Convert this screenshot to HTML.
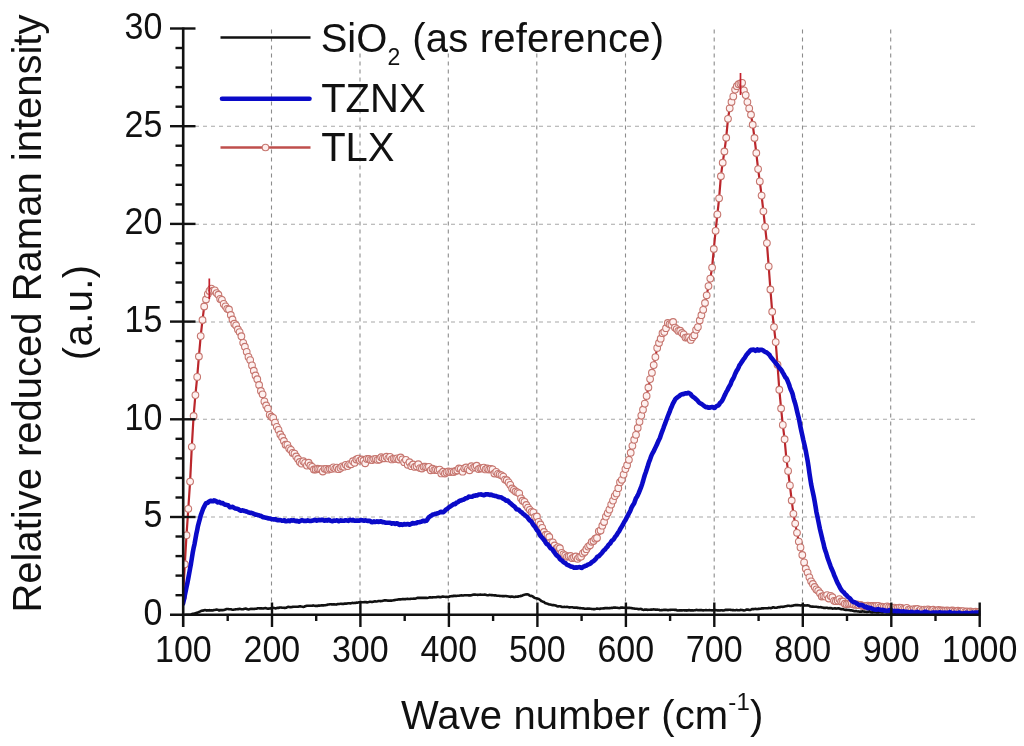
<!DOCTYPE html>
<html lang="en"><head><meta charset="utf-8"><title>Raman spectra</title>
<style>
html,body{margin:0;padding:0;background:#fff;}
body{width:1024px;height:746px;overflow:hidden;font-family:"Liberation Sans",sans-serif;}
svg{display:block;filter:blur(0.45px);}
text{font-family:"Liberation Sans",sans-serif;fill:#111;}
.tk{font-size:34px;}
.ti{font-size:40px;}
</style></head><body>
<svg width="1024" height="746" viewBox="0 0 1024 746">
<rect x="0" y="0" width="1024" height="746" fill="#fff"/>
<g fill="none" stroke-width="1.1" stroke-dasharray="4 4">
<g stroke="#8c8c8c">
<path d="M271.5 29.5V614.7"/>
<path d="M360.0 29.5V614.7"/>
<path d="M448.3 29.5V614.7"/>
<path d="M536.8 29.5V614.7"/>
<path d="M625.5 29.5V614.7"/>
<path d="M714.2 29.5V614.7"/>
<path d="M802.5 29.5V614.7"/>
<path d="M890.7 29.5V614.7"/>
</g><g stroke="#a8a8a8">
<path d="M187 517.0H978"/>
<path d="M187 419.3H978"/>
<path d="M187 322.0H978"/>
<path d="M187 224.3H978"/>
<path d="M187 126.3H978"/>
</g></g>
<g class="ti">
<rect x="318" y="18" width="350" height="35" fill="#fff"/>
<text x="320.7" y="51.5">SiO<tspan font-size="23px" dy="13.8">2</tspan><tspan dy="-13.8" dx="0.7" letter-spacing="0.22"> (as reference)</tspan></text>
<text x="321.2" y="111.8">TZNX</text>
<text x="321.2" y="161">TLX</text>
</g>
<defs><clipPath id="plot"><rect x="183" y="20" width="797.4" height="596"/></clipPath></defs>
<g clip-path="url(#plot)">
<path d="M183.0 597.0L184.8 564.2L186.5 535.2L188.3 508.8L190.1 481.6L191.8 446.8L193.6 416.0L195.4 395.1L197.2 376.9L198.9 356.5L200.7 336.1L202.5 320.0L204.2 306.5L206.0 299.5L207.8 294.1L209.5 290.9L211.3 288.6L213.1 290.7L214.8 290.4L216.6 293.1L218.4 294.7L220.2 298.9L221.9 299.8L223.7 303.9L225.5 306.3L227.2 308.8L229.0 309.5L230.8 315.0L232.5 319.5L234.3 323.7L236.1 325.4L237.9 329.5L239.6 332.1L241.4 336.2L243.2 342.8L244.9 346.7L246.7 351.8L248.5 356.9L250.2 360.1L252.0 365.4L253.8 370.7L255.5 375.5L257.3 379.2L259.1 385.0L260.9 391.0L262.6 394.3L264.4 401.4L266.2 405.5L267.9 408.6L269.7 414.8L271.5 416.7L273.2 417.9L275.0 422.6L276.8 426.8L278.5 429.9L280.3 434.5L282.1 437.2L283.9 441.0L285.6 444.7L287.4 444.9L289.2 448.4L290.9 449.9L292.7 452.9L294.5 453.6L296.2 456.5L298.0 459.0L299.8 462.0L301.5 463.6L303.3 461.2L305.1 462.8L306.9 465.6L308.6 462.7L310.4 465.5L312.2 466.8L313.9 469.5L315.7 469.5L317.5 468.7L319.2 469.0L321.0 469.2L322.8 471.5L324.6 468.8L326.3 468.9L328.1 469.7L329.9 469.0L331.6 468.8L333.4 467.4L335.2 468.6L336.9 467.6L338.7 469.2L340.5 467.9L342.2 466.4L344.0 466.7L345.8 464.8L347.6 466.1L349.3 464.1L351.1 464.3L352.9 461.2L354.6 462.8L356.4 459.5L358.2 458.6L359.9 460.6L361.7 459.5L363.5 460.7L365.2 463.3L367.0 458.9L368.8 459.0L370.6 459.9L372.3 460.1L374.1 459.1L375.9 458.9L377.6 459.9L379.4 459.5L381.2 457.2L382.9 458.3L384.7 458.3L386.5 456.7L388.3 458.4L390.0 456.8L391.8 459.4L393.6 458.6L395.3 458.9L397.1 458.4L398.9 459.5L400.6 457.5L402.4 459.4L404.2 462.2L405.9 459.8L407.7 464.8L409.5 462.2L411.3 466.2L413.0 464.5L414.8 466.9L416.6 466.2L418.3 464.2L420.1 468.1L421.9 468.5L423.6 466.7L425.4 466.7L427.2 467.3L428.9 466.8L430.7 470.3L432.5 468.7L434.3 470.1L436.0 469.6L437.8 470.2L439.6 469.6L441.3 473.4L443.1 471.7L444.9 473.5L446.6 472.4L448.4 471.5L450.2 472.1L451.9 471.6L453.7 472.0L455.5 471.0L457.3 470.5L459.0 468.5L460.8 468.8L462.6 471.7L464.3 468.3L466.1 467.5L467.9 469.1L469.6 470.3L471.4 466.2L473.2 467.8L475.0 467.1L476.7 465.7L478.5 469.1L480.3 468.2L482.0 468.5L483.8 467.6L485.6 469.4L487.3 468.5L489.1 469.5L490.9 468.8L492.6 469.4L494.4 473.5L496.2 471.9L498.0 473.9L499.7 474.6L501.5 475.3L503.3 476.6L505.0 479.6L506.8 480.2L508.6 482.4L510.3 484.9L512.1 488.5L513.9 489.9L515.6 491.5L517.4 492.3L519.2 493.3L521.0 498.3L522.7 500.7L524.5 501.8L526.3 505.0L528.0 507.6L529.8 509.8L531.6 511.9L533.3 512.3L535.1 516.9L536.9 516.5L538.6 521.8L540.4 524.5L542.2 527.9L544.0 532.0L545.7 534.7L547.5 534.9L549.3 537.0L551.0 542.3L552.8 542.3L554.6 545.5L556.3 548.5L558.1 547.1L559.9 548.2L561.7 552.9L563.4 554.3L565.2 555.4L567.0 556.8L568.7 556.3L570.5 556.0L572.3 558.2L574.0 557.4L575.8 556.5L577.6 558.8L579.3 557.1L581.1 556.6L582.9 553.4L584.7 552.0L586.4 549.2L588.2 546.6L590.0 545.3L591.7 541.8L593.5 541.0L595.3 538.7L597.0 538.0L598.8 531.3L600.6 530.4L602.3 525.7L604.1 522.0L605.9 516.6L607.7 513.1L609.4 509.6L611.2 504.6L613.0 500.6L614.7 496.1L616.5 493.4L618.3 488.2L620.0 482.2L621.8 479.8L623.6 474.6L625.4 469.1L627.1 465.2L628.9 459.8L630.7 452.7L632.4 445.8L634.2 439.7L636.0 434.8L637.7 428.0L639.5 421.8L641.3 415.6L643.0 409.7L644.8 403.6L646.6 395.9L648.4 387.5L650.1 379.1L651.9 372.7L653.7 365.1L655.4 357.1L657.2 347.9L659.0 343.0L660.7 338.7L662.5 333.2L664.3 331.9L666.0 328.2L667.8 323.0L669.6 324.2L671.4 324.7L673.1 322.0L674.9 327.6L676.7 329.1L678.4 330.9L680.2 330.7L682.0 333.0L683.7 334.4L685.5 337.6L687.3 337.4L689.0 337.4L690.8 339.9L692.6 337.2L694.4 335.2L696.1 329.8L697.9 327.1L699.7 320.5L701.4 315.2L703.2 309.8L705.0 303.0L706.7 295.3L708.5 286.1L710.3 278.6L712.1 267.6L713.8 249.0L715.6 230.8L717.4 214.4L719.1 198.3L720.9 176.2L722.7 162.7L724.4 151.5L726.2 137.7L728.0 118.8L729.7 108.3L731.5 102.0L733.3 96.4L735.1 89.6L736.8 86.2L738.6 84.2L740.4 83.4L742.1 82.8L743.9 90.3L745.7 95.1L747.4 102.1L749.2 108.4L751.0 114.7L752.7 124.7L754.5 138.0L756.3 153.0L758.1 169.1L759.8 181.4L761.6 195.6L763.4 211.3L765.1 226.8L766.9 243.1L768.7 266.4L770.4 289.5L772.2 311.7L774.0 327.1L775.7 342.1L777.5 364.7L779.3 389.7L781.1 408.5L782.8 424.9L784.6 439.2L786.4 459.1L788.1 470.9L789.9 485.4L791.7 500.5L793.4 513.8L795.2 523.6L797.0 532.8L798.8 541.6L800.5 547.4L802.3 555.0L804.1 562.4L805.8 568.7L807.6 572.6L809.4 577.3L811.1 581.3L812.9 584.0L814.7 587.0L816.4 589.4L818.2 590.8L820.0 593.2L821.8 596.5L823.5 596.1L825.3 596.6L827.1 595.1L828.8 598.5L830.6 595.9L832.4 597.2L834.1 600.8L835.9 601.2L837.7 600.6L839.4 599.1L841.2 601.5L843.0 601.5L844.8 603.7L846.5 604.3L848.3 603.8L850.1 603.7L851.8 603.8L853.6 604.6L855.4 604.8L857.1 604.5L858.9 605.2L860.7 604.8L862.4 606.0L864.2 606.1L866.0 606.2L867.8 605.6L869.5 606.2L871.3 606.0L873.1 606.0L874.8 606.2L876.6 605.9L878.4 605.9L880.1 607.1L881.9 606.7L883.7 607.1L885.5 607.5L887.2 606.4L889.0 607.0L890.8 607.5L892.5 607.8L894.3 607.6L896.1 608.4L897.8 608.1L899.6 607.6L901.4 607.9L903.1 608.9L904.9 608.9L906.7 607.9L908.5 609.6L910.2 609.4L912.0 609.8L913.8 609.1L915.5 609.3L917.3 609.0L919.1 610.8L920.8 609.6L922.6 610.6L924.4 609.6L926.1 610.1L927.9 609.3L929.7 610.0L931.5 610.7L933.2 609.7L935.0 610.9L936.8 610.6L938.5 610.0L940.3 610.4L942.1 610.5L943.8 610.7L945.6 610.6L947.4 610.5L949.2 610.9L950.9 610.6L952.7 610.5L954.5 611.2L956.2 611.7L958.0 610.7L959.8 611.5L961.5 611.2L963.3 611.1L965.1 612.1L966.8 611.5L968.6 612.5L970.4 611.5L972.2 612.1L973.9 611.9L975.7 611.7L977.5 612.4L979.2 612.1" fill="none" stroke="#bb272c" stroke-width="2.2" stroke-linejoin="round"/>
<g fill="#fef1f0" stroke="#c6766f" stroke-width="1.1">
<circle cx="183.0" cy="597.0" r="3.35"/>
<circle cx="184.8" cy="564.2" r="3.35"/>
<circle cx="186.5" cy="535.2" r="3.35"/>
<circle cx="188.3" cy="508.8" r="3.35"/>
<circle cx="190.1" cy="481.6" r="3.35"/>
<circle cx="191.8" cy="446.8" r="3.35"/>
<circle cx="193.6" cy="416.0" r="3.35"/>
<circle cx="195.4" cy="395.1" r="3.35"/>
<circle cx="197.2" cy="376.9" r="3.35"/>
<circle cx="198.9" cy="356.5" r="3.35"/>
<circle cx="200.7" cy="336.1" r="3.35"/>
<circle cx="202.5" cy="320.0" r="3.35"/>
<circle cx="204.2" cy="306.5" r="3.35"/>
<circle cx="206.0" cy="299.5" r="3.35"/>
<circle cx="207.8" cy="294.1" r="3.35"/>
<circle cx="209.5" cy="290.9" r="3.35"/>
<circle cx="211.3" cy="288.6" r="3.35"/>
<circle cx="213.1" cy="290.7" r="3.35"/>
<circle cx="214.8" cy="290.4" r="3.35"/>
<circle cx="216.6" cy="293.1" r="3.35"/>
<circle cx="218.4" cy="294.7" r="3.35"/>
<circle cx="220.2" cy="298.9" r="3.35"/>
<circle cx="221.9" cy="299.8" r="3.35"/>
<circle cx="223.7" cy="303.9" r="3.35"/>
<circle cx="225.5" cy="306.3" r="3.35"/>
<circle cx="227.2" cy="308.8" r="3.35"/>
<circle cx="229.0" cy="309.5" r="3.35"/>
<circle cx="230.8" cy="315.0" r="3.35"/>
<circle cx="232.5" cy="319.5" r="3.35"/>
<circle cx="234.3" cy="323.7" r="3.35"/>
<circle cx="236.1" cy="325.4" r="3.35"/>
<circle cx="237.9" cy="329.5" r="3.35"/>
<circle cx="239.6" cy="332.1" r="3.35"/>
<circle cx="241.4" cy="336.2" r="3.35"/>
<circle cx="243.2" cy="342.8" r="3.35"/>
<circle cx="244.9" cy="346.7" r="3.35"/>
<circle cx="246.7" cy="351.8" r="3.35"/>
<circle cx="248.5" cy="356.9" r="3.35"/>
<circle cx="250.2" cy="360.1" r="3.35"/>
<circle cx="252.0" cy="365.4" r="3.35"/>
<circle cx="253.8" cy="370.7" r="3.35"/>
<circle cx="255.5" cy="375.5" r="3.35"/>
<circle cx="257.3" cy="379.2" r="3.35"/>
<circle cx="259.1" cy="385.0" r="3.35"/>
<circle cx="260.9" cy="391.0" r="3.35"/>
<circle cx="262.6" cy="394.3" r="3.35"/>
<circle cx="264.4" cy="401.4" r="3.35"/>
<circle cx="266.2" cy="405.5" r="3.35"/>
<circle cx="267.9" cy="408.6" r="3.35"/>
<circle cx="269.7" cy="414.8" r="3.35"/>
<circle cx="271.5" cy="416.7" r="3.35"/>
<circle cx="273.2" cy="417.9" r="3.35"/>
<circle cx="275.0" cy="422.6" r="3.35"/>
<circle cx="276.8" cy="426.8" r="3.35"/>
<circle cx="278.5" cy="429.9" r="3.35"/>
<circle cx="280.3" cy="434.5" r="3.35"/>
<circle cx="282.1" cy="437.2" r="3.35"/>
<circle cx="283.9" cy="441.0" r="3.35"/>
<circle cx="285.6" cy="444.7" r="3.35"/>
<circle cx="287.4" cy="444.9" r="3.35"/>
<circle cx="289.2" cy="448.4" r="3.35"/>
<circle cx="290.9" cy="449.9" r="3.35"/>
<circle cx="292.7" cy="452.9" r="3.35"/>
<circle cx="294.5" cy="453.6" r="3.35"/>
<circle cx="296.2" cy="456.5" r="3.35"/>
<circle cx="298.0" cy="459.0" r="3.35"/>
<circle cx="299.8" cy="462.0" r="3.35"/>
<circle cx="301.5" cy="463.6" r="3.35"/>
<circle cx="303.3" cy="461.2" r="3.35"/>
<circle cx="305.1" cy="462.8" r="3.35"/>
<circle cx="306.9" cy="465.6" r="3.35"/>
<circle cx="308.6" cy="462.7" r="3.35"/>
<circle cx="310.4" cy="465.5" r="3.35"/>
<circle cx="312.2" cy="466.8" r="3.35"/>
<circle cx="313.9" cy="469.5" r="3.35"/>
<circle cx="315.7" cy="469.5" r="3.35"/>
<circle cx="317.5" cy="468.7" r="3.35"/>
<circle cx="319.2" cy="469.0" r="3.35"/>
<circle cx="321.0" cy="469.2" r="3.35"/>
<circle cx="322.8" cy="471.5" r="3.35"/>
<circle cx="324.6" cy="468.8" r="3.35"/>
<circle cx="326.3" cy="468.9" r="3.35"/>
<circle cx="328.1" cy="469.7" r="3.35"/>
<circle cx="329.9" cy="469.0" r="3.35"/>
<circle cx="331.6" cy="468.8" r="3.35"/>
<circle cx="333.4" cy="467.4" r="3.35"/>
<circle cx="335.2" cy="468.6" r="3.35"/>
<circle cx="336.9" cy="467.6" r="3.35"/>
<circle cx="338.7" cy="469.2" r="3.35"/>
<circle cx="340.5" cy="467.9" r="3.35"/>
<circle cx="342.2" cy="466.4" r="3.35"/>
<circle cx="344.0" cy="466.7" r="3.35"/>
<circle cx="345.8" cy="464.8" r="3.35"/>
<circle cx="347.6" cy="466.1" r="3.35"/>
<circle cx="349.3" cy="464.1" r="3.35"/>
<circle cx="351.1" cy="464.3" r="3.35"/>
<circle cx="352.9" cy="461.2" r="3.35"/>
<circle cx="354.6" cy="462.8" r="3.35"/>
<circle cx="356.4" cy="459.5" r="3.35"/>
<circle cx="358.2" cy="458.6" r="3.35"/>
<circle cx="359.9" cy="460.6" r="3.35"/>
<circle cx="361.7" cy="459.5" r="3.35"/>
<circle cx="363.5" cy="460.7" r="3.35"/>
<circle cx="365.2" cy="463.3" r="3.35"/>
<circle cx="367.0" cy="458.9" r="3.35"/>
<circle cx="368.8" cy="459.0" r="3.35"/>
<circle cx="370.6" cy="459.9" r="3.35"/>
<circle cx="372.3" cy="460.1" r="3.35"/>
<circle cx="374.1" cy="459.1" r="3.35"/>
<circle cx="375.9" cy="458.9" r="3.35"/>
<circle cx="377.6" cy="459.9" r="3.35"/>
<circle cx="379.4" cy="459.5" r="3.35"/>
<circle cx="381.2" cy="457.2" r="3.35"/>
<circle cx="382.9" cy="458.3" r="3.35"/>
<circle cx="384.7" cy="458.3" r="3.35"/>
<circle cx="386.5" cy="456.7" r="3.35"/>
<circle cx="388.3" cy="458.4" r="3.35"/>
<circle cx="390.0" cy="456.8" r="3.35"/>
<circle cx="391.8" cy="459.4" r="3.35"/>
<circle cx="393.6" cy="458.6" r="3.35"/>
<circle cx="395.3" cy="458.9" r="3.35"/>
<circle cx="397.1" cy="458.4" r="3.35"/>
<circle cx="398.9" cy="459.5" r="3.35"/>
<circle cx="400.6" cy="457.5" r="3.35"/>
<circle cx="402.4" cy="459.4" r="3.35"/>
<circle cx="404.2" cy="462.2" r="3.35"/>
<circle cx="405.9" cy="459.8" r="3.35"/>
<circle cx="407.7" cy="464.8" r="3.35"/>
<circle cx="409.5" cy="462.2" r="3.35"/>
<circle cx="411.3" cy="466.2" r="3.35"/>
<circle cx="413.0" cy="464.5" r="3.35"/>
<circle cx="414.8" cy="466.9" r="3.35"/>
<circle cx="416.6" cy="466.2" r="3.35"/>
<circle cx="418.3" cy="464.2" r="3.35"/>
<circle cx="420.1" cy="468.1" r="3.35"/>
<circle cx="421.9" cy="468.5" r="3.35"/>
<circle cx="423.6" cy="466.7" r="3.35"/>
<circle cx="425.4" cy="466.7" r="3.35"/>
<circle cx="427.2" cy="467.3" r="3.35"/>
<circle cx="428.9" cy="466.8" r="3.35"/>
<circle cx="430.7" cy="470.3" r="3.35"/>
<circle cx="432.5" cy="468.7" r="3.35"/>
<circle cx="434.3" cy="470.1" r="3.35"/>
<circle cx="436.0" cy="469.6" r="3.35"/>
<circle cx="437.8" cy="470.2" r="3.35"/>
<circle cx="439.6" cy="469.6" r="3.35"/>
<circle cx="441.3" cy="473.4" r="3.35"/>
<circle cx="443.1" cy="471.7" r="3.35"/>
<circle cx="444.9" cy="473.5" r="3.35"/>
<circle cx="446.6" cy="472.4" r="3.35"/>
<circle cx="448.4" cy="471.5" r="3.35"/>
<circle cx="450.2" cy="472.1" r="3.35"/>
<circle cx="451.9" cy="471.6" r="3.35"/>
<circle cx="453.7" cy="472.0" r="3.35"/>
<circle cx="455.5" cy="471.0" r="3.35"/>
<circle cx="457.3" cy="470.5" r="3.35"/>
<circle cx="459.0" cy="468.5" r="3.35"/>
<circle cx="460.8" cy="468.8" r="3.35"/>
<circle cx="462.6" cy="471.7" r="3.35"/>
<circle cx="464.3" cy="468.3" r="3.35"/>
<circle cx="466.1" cy="467.5" r="3.35"/>
<circle cx="467.9" cy="469.1" r="3.35"/>
<circle cx="469.6" cy="470.3" r="3.35"/>
<circle cx="471.4" cy="466.2" r="3.35"/>
<circle cx="473.2" cy="467.8" r="3.35"/>
<circle cx="475.0" cy="467.1" r="3.35"/>
<circle cx="476.7" cy="465.7" r="3.35"/>
<circle cx="478.5" cy="469.1" r="3.35"/>
<circle cx="480.3" cy="468.2" r="3.35"/>
<circle cx="482.0" cy="468.5" r="3.35"/>
<circle cx="483.8" cy="467.6" r="3.35"/>
<circle cx="485.6" cy="469.4" r="3.35"/>
<circle cx="487.3" cy="468.5" r="3.35"/>
<circle cx="489.1" cy="469.5" r="3.35"/>
<circle cx="490.9" cy="468.8" r="3.35"/>
<circle cx="492.6" cy="469.4" r="3.35"/>
<circle cx="494.4" cy="473.5" r="3.35"/>
<circle cx="496.2" cy="471.9" r="3.35"/>
<circle cx="498.0" cy="473.9" r="3.35"/>
<circle cx="499.7" cy="474.6" r="3.35"/>
<circle cx="501.5" cy="475.3" r="3.35"/>
<circle cx="503.3" cy="476.6" r="3.35"/>
<circle cx="505.0" cy="479.6" r="3.35"/>
<circle cx="506.8" cy="480.2" r="3.35"/>
<circle cx="508.6" cy="482.4" r="3.35"/>
<circle cx="510.3" cy="484.9" r="3.35"/>
<circle cx="512.1" cy="488.5" r="3.35"/>
<circle cx="513.9" cy="489.9" r="3.35"/>
<circle cx="515.6" cy="491.5" r="3.35"/>
<circle cx="517.4" cy="492.3" r="3.35"/>
<circle cx="519.2" cy="493.3" r="3.35"/>
<circle cx="521.0" cy="498.3" r="3.35"/>
<circle cx="522.7" cy="500.7" r="3.35"/>
<circle cx="524.5" cy="501.8" r="3.35"/>
<circle cx="526.3" cy="505.0" r="3.35"/>
<circle cx="528.0" cy="507.6" r="3.35"/>
<circle cx="529.8" cy="509.8" r="3.35"/>
<circle cx="531.6" cy="511.9" r="3.35"/>
<circle cx="533.3" cy="512.3" r="3.35"/>
<circle cx="535.1" cy="516.9" r="3.35"/>
<circle cx="536.9" cy="516.5" r="3.35"/>
<circle cx="538.6" cy="521.8" r="3.35"/>
<circle cx="540.4" cy="524.5" r="3.35"/>
<circle cx="542.2" cy="527.9" r="3.35"/>
<circle cx="544.0" cy="532.0" r="3.35"/>
<circle cx="545.7" cy="534.7" r="3.35"/>
<circle cx="547.5" cy="534.9" r="3.35"/>
<circle cx="549.3" cy="537.0" r="3.35"/>
<circle cx="551.0" cy="542.3" r="3.35"/>
<circle cx="552.8" cy="542.3" r="3.35"/>
<circle cx="554.6" cy="545.5" r="3.35"/>
<circle cx="556.3" cy="548.5" r="3.35"/>
<circle cx="558.1" cy="547.1" r="3.35"/>
<circle cx="559.9" cy="548.2" r="3.35"/>
<circle cx="561.7" cy="552.9" r="3.35"/>
<circle cx="563.4" cy="554.3" r="3.35"/>
<circle cx="565.2" cy="555.4" r="3.35"/>
<circle cx="567.0" cy="556.8" r="3.35"/>
<circle cx="568.7" cy="556.3" r="3.35"/>
<circle cx="570.5" cy="556.0" r="3.35"/>
<circle cx="572.3" cy="558.2" r="3.35"/>
<circle cx="574.0" cy="557.4" r="3.35"/>
<circle cx="575.8" cy="556.5" r="3.35"/>
<circle cx="577.6" cy="558.8" r="3.35"/>
<circle cx="579.3" cy="557.1" r="3.35"/>
<circle cx="581.1" cy="556.6" r="3.35"/>
<circle cx="582.9" cy="553.4" r="3.35"/>
<circle cx="584.7" cy="552.0" r="3.35"/>
<circle cx="586.4" cy="549.2" r="3.35"/>
<circle cx="588.2" cy="546.6" r="3.35"/>
<circle cx="590.0" cy="545.3" r="3.35"/>
<circle cx="591.7" cy="541.8" r="3.35"/>
<circle cx="593.5" cy="541.0" r="3.35"/>
<circle cx="595.3" cy="538.7" r="3.35"/>
<circle cx="597.0" cy="538.0" r="3.35"/>
<circle cx="598.8" cy="531.3" r="3.35"/>
<circle cx="600.6" cy="530.4" r="3.35"/>
<circle cx="602.3" cy="525.7" r="3.35"/>
<circle cx="604.1" cy="522.0" r="3.35"/>
<circle cx="605.9" cy="516.6" r="3.35"/>
<circle cx="607.7" cy="513.1" r="3.35"/>
<circle cx="609.4" cy="509.6" r="3.35"/>
<circle cx="611.2" cy="504.6" r="3.35"/>
<circle cx="613.0" cy="500.6" r="3.35"/>
<circle cx="614.7" cy="496.1" r="3.35"/>
<circle cx="616.5" cy="493.4" r="3.35"/>
<circle cx="618.3" cy="488.2" r="3.35"/>
<circle cx="620.0" cy="482.2" r="3.35"/>
<circle cx="621.8" cy="479.8" r="3.35"/>
<circle cx="623.6" cy="474.6" r="3.35"/>
<circle cx="625.4" cy="469.1" r="3.35"/>
<circle cx="627.1" cy="465.2" r="3.35"/>
<circle cx="628.9" cy="459.8" r="3.35"/>
<circle cx="630.7" cy="452.7" r="3.35"/>
<circle cx="632.4" cy="445.8" r="3.35"/>
<circle cx="634.2" cy="439.7" r="3.35"/>
<circle cx="636.0" cy="434.8" r="3.35"/>
<circle cx="637.7" cy="428.0" r="3.35"/>
<circle cx="639.5" cy="421.8" r="3.35"/>
<circle cx="641.3" cy="415.6" r="3.35"/>
<circle cx="643.0" cy="409.7" r="3.35"/>
<circle cx="644.8" cy="403.6" r="3.35"/>
<circle cx="646.6" cy="395.9" r="3.35"/>
<circle cx="648.4" cy="387.5" r="3.35"/>
<circle cx="650.1" cy="379.1" r="3.35"/>
<circle cx="651.9" cy="372.7" r="3.35"/>
<circle cx="653.7" cy="365.1" r="3.35"/>
<circle cx="655.4" cy="357.1" r="3.35"/>
<circle cx="657.2" cy="347.9" r="3.35"/>
<circle cx="659.0" cy="343.0" r="3.35"/>
<circle cx="660.7" cy="338.7" r="3.35"/>
<circle cx="662.5" cy="333.2" r="3.35"/>
<circle cx="664.3" cy="331.9" r="3.35"/>
<circle cx="666.0" cy="328.2" r="3.35"/>
<circle cx="667.8" cy="323.0" r="3.35"/>
<circle cx="669.6" cy="324.2" r="3.35"/>
<circle cx="671.4" cy="324.7" r="3.35"/>
<circle cx="673.1" cy="322.0" r="3.35"/>
<circle cx="674.9" cy="327.6" r="3.35"/>
<circle cx="676.7" cy="329.1" r="3.35"/>
<circle cx="678.4" cy="330.9" r="3.35"/>
<circle cx="680.2" cy="330.7" r="3.35"/>
<circle cx="682.0" cy="333.0" r="3.35"/>
<circle cx="683.7" cy="334.4" r="3.35"/>
<circle cx="685.5" cy="337.6" r="3.35"/>
<circle cx="687.3" cy="337.4" r="3.35"/>
<circle cx="689.0" cy="337.4" r="3.35"/>
<circle cx="690.8" cy="339.9" r="3.35"/>
<circle cx="692.6" cy="337.2" r="3.35"/>
<circle cx="694.4" cy="335.2" r="3.35"/>
<circle cx="696.1" cy="329.8" r="3.35"/>
<circle cx="697.9" cy="327.1" r="3.35"/>
<circle cx="699.7" cy="320.5" r="3.35"/>
<circle cx="701.4" cy="315.2" r="3.35"/>
<circle cx="703.2" cy="309.8" r="3.35"/>
<circle cx="705.0" cy="303.0" r="3.35"/>
<circle cx="706.7" cy="295.3" r="3.35"/>
<circle cx="708.5" cy="286.1" r="3.35"/>
<circle cx="710.3" cy="278.6" r="3.35"/>
<circle cx="712.1" cy="267.6" r="3.35"/>
<circle cx="713.8" cy="249.0" r="3.35"/>
<circle cx="715.6" cy="230.8" r="3.35"/>
<circle cx="717.4" cy="214.4" r="3.35"/>
<circle cx="719.1" cy="198.3" r="3.35"/>
<circle cx="720.9" cy="176.2" r="3.35"/>
<circle cx="722.7" cy="162.7" r="3.35"/>
<circle cx="724.4" cy="151.5" r="3.35"/>
<circle cx="726.2" cy="137.7" r="3.35"/>
<circle cx="728.0" cy="118.8" r="3.35"/>
<circle cx="729.7" cy="108.3" r="3.35"/>
<circle cx="731.5" cy="102.0" r="3.35"/>
<circle cx="733.3" cy="96.4" r="3.35"/>
<circle cx="735.1" cy="89.6" r="3.35"/>
<circle cx="736.8" cy="86.2" r="3.35"/>
<circle cx="738.6" cy="84.2" r="3.35"/>
<circle cx="740.4" cy="83.4" r="3.35"/>
<circle cx="742.1" cy="82.8" r="3.35"/>
<circle cx="743.9" cy="90.3" r="3.35"/>
<circle cx="745.7" cy="95.1" r="3.35"/>
<circle cx="747.4" cy="102.1" r="3.35"/>
<circle cx="749.2" cy="108.4" r="3.35"/>
<circle cx="751.0" cy="114.7" r="3.35"/>
<circle cx="752.7" cy="124.7" r="3.35"/>
<circle cx="754.5" cy="138.0" r="3.35"/>
<circle cx="756.3" cy="153.0" r="3.35"/>
<circle cx="758.1" cy="169.1" r="3.35"/>
<circle cx="759.8" cy="181.4" r="3.35"/>
<circle cx="761.6" cy="195.6" r="3.35"/>
<circle cx="763.4" cy="211.3" r="3.35"/>
<circle cx="765.1" cy="226.8" r="3.35"/>
<circle cx="766.9" cy="243.1" r="3.35"/>
<circle cx="768.7" cy="266.4" r="3.35"/>
<circle cx="770.4" cy="289.5" r="3.35"/>
<circle cx="772.2" cy="311.7" r="3.35"/>
<circle cx="774.0" cy="327.1" r="3.35"/>
<circle cx="775.7" cy="342.1" r="3.35"/>
<circle cx="777.5" cy="364.7" r="3.35"/>
<circle cx="779.3" cy="389.7" r="3.35"/>
<circle cx="781.1" cy="408.5" r="3.35"/>
<circle cx="782.8" cy="424.9" r="3.35"/>
<circle cx="784.6" cy="439.2" r="3.35"/>
<circle cx="786.4" cy="459.1" r="3.35"/>
<circle cx="788.1" cy="470.9" r="3.35"/>
<circle cx="789.9" cy="485.4" r="3.35"/>
<circle cx="791.7" cy="500.5" r="3.35"/>
<circle cx="793.4" cy="513.8" r="3.35"/>
<circle cx="795.2" cy="523.6" r="3.35"/>
<circle cx="797.0" cy="532.8" r="3.35"/>
<circle cx="798.8" cy="541.6" r="3.35"/>
<circle cx="800.5" cy="547.4" r="3.35"/>
<circle cx="802.3" cy="555.0" r="3.35"/>
<circle cx="804.1" cy="562.4" r="3.35"/>
<circle cx="805.8" cy="568.7" r="3.35"/>
<circle cx="807.6" cy="572.6" r="3.35"/>
<circle cx="809.4" cy="577.3" r="3.35"/>
<circle cx="811.1" cy="581.3" r="3.35"/>
<circle cx="812.9" cy="584.0" r="3.35"/>
<circle cx="814.7" cy="587.0" r="3.35"/>
<circle cx="816.4" cy="589.4" r="3.35"/>
<circle cx="818.2" cy="590.8" r="3.35"/>
<circle cx="820.0" cy="593.2" r="3.35"/>
<circle cx="821.8" cy="596.5" r="3.35"/>
<circle cx="823.5" cy="596.1" r="3.35"/>
<circle cx="825.3" cy="596.6" r="3.35"/>
<circle cx="827.1" cy="595.1" r="3.35"/>
<circle cx="828.8" cy="598.5" r="3.35"/>
<circle cx="830.6" cy="595.9" r="3.35"/>
<circle cx="832.4" cy="597.2" r="3.35"/>
<circle cx="834.1" cy="600.8" r="3.35"/>
<circle cx="835.9" cy="601.2" r="3.35"/>
<circle cx="837.7" cy="600.6" r="3.35"/>
<circle cx="839.4" cy="599.1" r="3.35"/>
<circle cx="841.2" cy="601.5" r="3.35"/>
<circle cx="843.0" cy="601.5" r="3.35"/>
<circle cx="844.8" cy="603.7" r="3.35"/>
<circle cx="846.5" cy="604.3" r="3.35"/>
<circle cx="848.3" cy="603.8" r="3.35"/>
<circle cx="850.1" cy="603.7" r="3.35"/>
<circle cx="851.8" cy="603.8" r="3.35"/>
<circle cx="853.6" cy="604.6" r="3.35"/>
<circle cx="855.4" cy="604.8" r="3.35"/>
<circle cx="857.1" cy="604.5" r="3.35"/>
<circle cx="858.9" cy="605.2" r="3.35"/>
<circle cx="860.7" cy="604.8" r="3.35"/>
<circle cx="862.4" cy="606.0" r="3.35"/>
<circle cx="864.2" cy="606.1" r="3.35"/>
<circle cx="866.0" cy="606.2" r="3.35"/>
<circle cx="867.8" cy="605.6" r="3.35"/>
<circle cx="869.5" cy="606.2" r="3.35"/>
<circle cx="871.3" cy="606.0" r="3.35"/>
<circle cx="873.1" cy="606.0" r="3.35"/>
<circle cx="874.8" cy="606.2" r="3.35"/>
<circle cx="876.6" cy="605.9" r="3.35"/>
<circle cx="878.4" cy="605.9" r="3.35"/>
<circle cx="880.1" cy="607.1" r="3.35"/>
<circle cx="881.9" cy="606.7" r="3.35"/>
<circle cx="883.7" cy="607.1" r="3.35"/>
<circle cx="885.5" cy="607.5" r="3.35"/>
<circle cx="887.2" cy="606.4" r="3.35"/>
<circle cx="889.0" cy="607.0" r="3.35"/>
<circle cx="890.8" cy="607.5" r="3.35"/>
<circle cx="892.5" cy="607.8" r="3.35"/>
<circle cx="894.3" cy="607.6" r="3.35"/>
<circle cx="896.1" cy="608.4" r="3.35"/>
<circle cx="897.8" cy="608.1" r="3.35"/>
<circle cx="899.6" cy="607.6" r="3.35"/>
<circle cx="901.4" cy="607.9" r="3.35"/>
<circle cx="903.1" cy="608.9" r="3.35"/>
<circle cx="904.9" cy="608.9" r="3.35"/>
<circle cx="906.7" cy="607.9" r="3.35"/>
<circle cx="908.5" cy="609.6" r="3.35"/>
<circle cx="910.2" cy="609.4" r="3.35"/>
<circle cx="912.0" cy="609.8" r="3.35"/>
<circle cx="913.8" cy="609.1" r="3.35"/>
<circle cx="915.5" cy="609.3" r="3.35"/>
<circle cx="917.3" cy="609.0" r="3.35"/>
<circle cx="919.1" cy="610.8" r="3.35"/>
<circle cx="920.8" cy="609.6" r="3.35"/>
<circle cx="922.6" cy="610.6" r="3.35"/>
<circle cx="924.4" cy="609.6" r="3.35"/>
<circle cx="926.1" cy="610.1" r="3.35"/>
<circle cx="927.9" cy="609.3" r="3.35"/>
<circle cx="929.7" cy="610.0" r="3.35"/>
<circle cx="931.5" cy="610.7" r="3.35"/>
<circle cx="933.2" cy="609.7" r="3.35"/>
<circle cx="935.0" cy="610.9" r="3.35"/>
<circle cx="936.8" cy="610.6" r="3.35"/>
<circle cx="938.5" cy="610.0" r="3.35"/>
<circle cx="940.3" cy="610.4" r="3.35"/>
<circle cx="942.1" cy="610.5" r="3.35"/>
<circle cx="943.8" cy="610.7" r="3.35"/>
<circle cx="945.6" cy="610.6" r="3.35"/>
<circle cx="947.4" cy="610.5" r="3.35"/>
<circle cx="949.2" cy="610.9" r="3.35"/>
<circle cx="950.9" cy="610.6" r="3.35"/>
<circle cx="952.7" cy="610.5" r="3.35"/>
<circle cx="954.5" cy="611.2" r="3.35"/>
<circle cx="956.2" cy="611.7" r="3.35"/>
<circle cx="958.0" cy="610.7" r="3.35"/>
<circle cx="959.8" cy="611.5" r="3.35"/>
<circle cx="961.5" cy="611.2" r="3.35"/>
<circle cx="963.3" cy="611.1" r="3.35"/>
<circle cx="965.1" cy="612.1" r="3.35"/>
<circle cx="966.8" cy="611.5" r="3.35"/>
<circle cx="968.6" cy="612.5" r="3.35"/>
<circle cx="970.4" cy="611.5" r="3.35"/>
<circle cx="972.2" cy="612.1" r="3.35"/>
<circle cx="973.9" cy="611.9" r="3.35"/>
<circle cx="975.7" cy="611.7" r="3.35"/>
<circle cx="977.5" cy="612.4" r="3.35"/>
<circle cx="979.2" cy="612.1" r="3.35"/>
</g>
<path d="M209.3 278.5V299M740.5 73V95" fill="none" stroke="#c4202c" stroke-width="1.7"/>
<path d="M183.0 615.0L183.9 615.0L184.8 615.0L185.7 614.9L186.5 614.7L187.4 614.8L188.3 614.8L189.2 614.8L190.1 614.7L191.0 614.5L191.8 614.0L192.7 613.9L193.6 613.9L194.5 613.6L195.4 613.2L196.3 612.9L197.2 612.8L198.0 612.4L198.9 612.0L199.8 611.6L200.7 611.1L201.6 610.7L202.5 610.5L203.3 610.6L204.2 610.3L205.1 610.1L206.0 610.2L206.9 610.6L207.8 610.3L208.7 610.5L209.5 610.1L210.4 610.5L211.3 610.3L212.2 610.5L213.1 610.4L214.0 610.0L214.8 610.0L215.7 609.8L216.6 609.6L217.5 609.8L218.4 610.0L219.3 610.5L220.2 610.0L221.0 610.1L221.9 610.0L222.8 610.3L223.7 610.1L224.6 609.7L225.5 609.4L226.4 609.1L227.2 609.0L228.1 609.0L229.0 609.2L229.9 609.3L230.8 609.3L231.7 609.6L232.5 609.8L233.4 609.8L234.3 609.6L235.2 609.4L236.1 609.3L237.0 609.2L237.9 609.1L238.7 609.1L239.6 608.8L240.5 609.0L241.4 609.2L242.3 609.2L243.2 609.2L244.0 608.9L244.9 608.8L245.8 608.6L246.7 608.9L247.6 609.3L248.5 609.5L249.4 609.2L250.2 609.0L251.1 608.8L252.0 609.0L252.9 608.9L253.8 609.0L254.7 608.9L255.5 608.8L256.4 608.7L257.3 608.4L258.2 608.3L259.1 608.2L260.0 608.4L260.9 608.3L261.7 608.4L262.6 608.5L263.5 608.4L264.4 608.2L265.3 608.0L266.2 608.3L267.0 608.6L267.9 608.8L268.8 608.6L269.7 608.5L270.6 608.2L271.5 608.4L272.4 608.1L273.2 607.9L274.1 608.0L275.0 608.2L275.9 608.4L276.8 608.0L277.7 607.8L278.5 607.9L279.4 607.6L280.3 607.5L281.2 607.5L282.1 607.7L283.0 607.8L283.9 607.7L284.7 608.0L285.6 607.7L286.5 607.6L287.4 607.0L288.3 606.9L289.2 607.0L290.0 607.1L290.9 607.2L291.8 607.0L292.7 606.9L293.6 606.8L294.5 606.7L295.4 606.7L296.2 606.8L297.1 606.8L298.0 606.8L298.9 606.5L299.8 606.4L300.7 606.4L301.5 606.6L302.4 606.8L303.3 606.9L304.2 606.7L305.1 606.3L306.0 606.0L306.9 605.8L307.7 605.7L308.6 605.7L309.5 605.7L310.4 605.8L311.3 605.8L312.2 605.7L313.1 605.4L313.9 605.6L314.8 605.7L315.7 606.0L316.6 605.8L317.5 605.9L318.4 605.6L319.2 605.5L320.1 605.6L321.0 605.4L321.9 605.4L322.8 605.2L323.7 605.4L324.6 605.3L325.4 605.2L326.3 605.0L327.2 604.9L328.1 604.5L329.0 604.5L329.9 604.3L330.7 604.3L331.6 604.4L332.5 604.4L333.4 604.2L334.3 604.4L335.2 604.4L336.1 604.6L336.9 604.3L337.8 604.1L338.7 604.0L339.6 604.0L340.5 603.8L341.4 603.7L342.2 604.0L343.1 603.9L344.0 603.9L344.9 603.5L345.8 603.6L346.7 603.6L347.6 603.4L348.4 603.3L349.3 603.3L350.2 603.4L351.1 603.2L352.0 603.0L352.9 602.9L353.7 603.1L354.6 602.9L355.5 603.0L356.4 602.6L357.3 602.7L358.2 602.5L359.1 602.3L359.9 602.2L360.8 602.0L361.7 602.2L362.6 602.3L363.5 602.3L364.4 602.1L365.2 602.0L366.1 602.1L367.0 602.4L367.9 602.2L368.8 602.0L369.7 601.7L370.6 601.8L371.4 602.0L372.3 601.9L373.2 601.7L374.1 601.5L375.0 601.3L375.9 601.5L376.7 601.5L377.6 601.3L378.5 601.0L379.4 601.0L380.3 601.1L381.2 601.1L382.1 600.9L382.9 600.7L383.8 600.5L384.7 600.3L385.6 600.4L386.5 600.4L387.4 600.6L388.3 600.6L389.1 600.7L390.0 600.6L390.9 600.6L391.8 600.6L392.7 600.4L393.6 600.2L394.4 600.1L395.3 600.0L396.2 599.8L397.1 599.7L398.0 599.5L398.9 599.4L399.8 599.3L400.6 599.4L401.5 599.2L402.4 599.1L403.3 599.1L404.2 599.3L405.1 599.1L405.9 599.1L406.8 598.9L407.7 598.9L408.6 599.0L409.5 599.0L410.4 598.9L411.3 598.8L412.1 598.8L413.0 598.7L413.9 598.6L414.8 598.7L415.7 598.4L416.6 598.2L417.4 597.8L418.3 597.9L419.2 597.9L420.1 597.8L421.0 597.9L421.9 597.9L422.8 597.9L423.6 597.9L424.5 597.9L425.4 597.8L426.3 597.9L427.2 598.0L428.1 597.8L428.9 597.6L429.8 597.3L430.7 597.4L431.6 597.5L432.5 597.4L433.4 597.3L434.3 597.3L435.1 597.3L436.0 597.3L436.9 597.0L437.8 596.9L438.7 596.7L439.6 597.1L440.4 597.1L441.3 597.0L442.2 596.6L443.1 596.6L444.0 596.7L444.9 596.8L445.8 597.0L446.6 596.9L447.5 597.0L448.4 596.7L449.3 596.7L450.2 596.3L451.1 596.2L451.9 596.1L452.8 596.2L453.7 595.8L454.6 595.9L455.5 595.8L456.4 596.0L457.3 595.8L458.1 595.7L459.0 595.8L459.9 595.6L460.8 595.4L461.7 595.4L462.6 595.5L463.4 595.5L464.3 595.3L465.2 595.2L466.1 595.2L467.0 595.3L467.9 595.3L468.8 595.4L469.6 595.3L470.5 595.4L471.4 595.3L472.3 594.9L473.2 594.8L474.1 594.5L475.0 594.6L475.8 594.8L476.7 594.8L477.6 594.9L478.5 594.7L479.4 594.8L480.3 594.6L481.1 594.8L482.0 594.7L482.9 594.8L483.8 594.7L484.7 594.6L485.6 594.8L486.5 595.1L487.3 595.3L488.2 595.2L489.1 595.0L490.0 594.9L490.9 595.1L491.8 595.0L492.6 595.3L493.5 595.2L494.4 595.4L495.3 595.3L496.2 595.5L497.1 595.7L498.0 595.8L498.8 595.7L499.7 595.9L500.6 596.0L501.5 596.0L502.4 596.1L503.3 596.0L504.1 596.2L505.0 596.0L505.9 596.0L506.8 596.2L507.7 596.3L508.6 596.5L509.5 596.6L510.3 596.9L511.2 596.6L512.1 596.6L513.0 596.7L513.9 597.0L514.8 597.0L515.6 596.6L516.5 596.7L517.4 596.5L518.3 596.7L519.2 596.2L520.1 596.2L521.0 595.8L521.8 595.9L522.7 595.4L523.6 594.9L524.5 594.7L525.4 594.5L526.3 594.4L527.1 594.2L528.0 594.4L528.9 594.9L529.8 595.6L530.7 596.0L531.6 595.9L532.5 596.2L533.3 596.9L534.2 597.6L535.1 598.0L536.0 598.2L536.9 598.5L537.8 598.6L538.6 598.9L539.5 599.5L540.4 600.1L541.3 601.0L542.2 601.4L543.1 601.8L544.0 602.1L544.8 602.8L545.7 603.3L546.6 603.5L547.5 603.7L548.4 604.1L549.3 604.5L550.2 604.5L551.0 604.7L551.9 605.0L552.8 605.1L553.7 605.1L554.6 605.2L555.5 605.5L556.3 605.8L557.2 606.2L558.1 606.4L559.0 606.3L559.9 606.3L560.8 606.5L561.7 606.9L562.5 607.0L563.4 607.0L564.3 606.9L565.2 607.0L566.1 607.0L567.0 606.9L567.8 607.0L568.7 607.2L569.6 607.5L570.5 607.2L571.4 607.2L572.3 607.2L573.2 607.4L574.0 607.7L574.9 607.6L575.8 607.8L576.7 607.6L577.6 607.9L578.5 607.9L579.3 608.1L580.2 608.1L581.1 608.3L582.0 608.3L582.9 608.5L583.8 608.4L584.7 608.7L585.5 608.7L586.4 608.8L587.3 608.6L588.2 608.8L589.1 608.6L590.0 608.7L590.8 608.8L591.7 609.0L592.6 609.0L593.5 609.1L594.4 609.1L595.3 609.0L596.2 608.8L597.0 608.6L597.9 608.8L598.8 608.8L599.7 608.9L600.6 608.6L601.5 608.5L602.3 608.5L603.2 608.4L604.1 608.4L605.0 608.1L605.9 608.1L606.8 608.0L607.7 608.1L608.5 608.2L609.4 608.0L610.3 608.1L611.2 607.9L612.1 608.0L613.0 607.7L613.8 607.5L614.7 607.6L615.6 607.6L616.5 607.7L617.4 607.7L618.3 607.9L619.2 608.1L620.0 607.9L620.9 607.6L621.8 607.5L622.7 607.6L623.6 607.8L624.5 607.7L625.4 607.8L626.2 607.8L627.1 607.9L628.0 607.9L628.9 607.9L629.8 607.9L630.7 608.0L631.5 608.1L632.4 608.2L633.3 608.5L634.2 608.5L635.1 608.8L636.0 608.7L636.9 608.8L637.7 609.0L638.6 609.1L639.5 609.1L640.4 608.9L641.3 609.0L642.2 609.5L643.0 609.7L643.9 609.9L644.8 609.5L645.7 609.6L646.6 609.5L647.5 609.9L648.4 609.8L649.2 609.8L650.1 609.7L651.0 609.6L651.9 609.6L652.8 609.5L653.7 609.4L654.5 609.5L655.4 609.6L656.3 609.8L657.2 609.6L658.1 609.7L659.0 609.8L659.9 610.2L660.7 610.2L661.6 610.1L662.5 610.1L663.4 609.9L664.3 609.9L665.2 609.8L666.0 609.9L666.9 610.0L667.8 610.1L668.7 610.1L669.6 609.9L670.5 609.9L671.4 609.8L672.2 609.8L673.1 609.8L674.0 609.8L674.9 609.9L675.8 609.8L676.7 610.2L677.5 610.4L678.4 610.5L679.3 610.3L680.2 610.4L681.1 610.4L682.0 610.4L682.9 610.2L683.7 610.2L684.6 610.4L685.5 610.3L686.4 610.6L687.3 610.3L688.2 610.4L689.0 610.0L689.9 610.4L690.8 610.2L691.7 610.4L692.6 610.3L693.5 610.5L694.4 610.3L695.2 610.2L696.1 609.9L697.0 610.0L697.9 610.1L698.8 610.2L699.7 610.1L700.5 610.1L701.4 610.0L702.3 610.2L703.2 610.4L704.1 610.3L705.0 610.2L705.9 610.0L706.7 610.3L707.6 610.2L708.5 610.2L709.4 610.0L710.3 610.2L711.2 610.3L712.1 610.4L712.9 610.3L713.8 610.3L714.7 610.1L715.6 610.1L716.5 610.2L717.4 610.4L718.2 610.4L719.1 610.5L720.0 610.4L720.9 610.2L721.8 610.2L722.7 610.5L723.6 610.5L724.4 610.2L725.3 609.9L726.2 609.9L727.1 609.8L728.0 609.9L728.9 609.8L729.7 609.8L730.6 609.9L731.5 610.0L732.4 610.1L733.3 610.1L734.2 610.3L735.1 610.2L735.9 610.1L736.8 609.9L737.7 610.2L738.6 610.2L739.5 610.2L740.4 609.9L741.2 609.9L742.1 610.1L743.0 610.3L743.9 610.4L744.8 610.2L745.7 609.9L746.6 609.5L747.4 609.6L748.3 609.6L749.2 610.0L750.1 610.0L751.0 609.6L751.9 609.1L752.7 609.1L753.6 609.1L754.5 609.0L755.4 608.9L756.3 609.0L757.2 609.1L758.1 608.9L758.9 608.9L759.8 608.8L760.7 608.8L761.6 608.4L762.5 608.3L763.4 608.4L764.2 608.3L765.1 608.3L766.0 608.2L766.9 608.3L767.8 608.2L768.7 607.9L769.6 608.0L770.4 608.1L771.3 608.2L772.2 607.7L773.1 607.3L774.0 607.4L774.9 607.7L775.7 607.8L776.6 607.8L777.5 607.4L778.4 607.3L779.3 607.0L780.2 607.1L781.1 606.8L781.9 606.8L782.8 606.9L783.7 606.8L784.6 606.4L785.5 606.2L786.4 606.1L787.3 605.9L788.1 605.8L789.0 605.8L789.9 606.0L790.8 606.0L791.7 605.9L792.6 605.8L793.4 605.5L794.3 605.2L795.2 605.1L796.1 605.1L797.0 605.1L797.9 605.1L798.8 605.2L799.6 605.3L800.5 605.5L801.4 605.3L802.3 605.2L803.2 605.3L804.1 605.3L804.9 605.6L805.8 605.4L806.7 605.5L807.6 605.3L808.5 605.5L809.4 605.8L810.3 606.4L811.1 606.5L812.0 606.6L812.9 606.6L813.8 606.7L814.7 606.7L815.6 606.8L816.4 606.8L817.3 607.0L818.2 607.1L819.1 607.3L820.0 607.2L820.9 607.1L821.8 607.5L822.6 607.5L823.5 607.9L824.4 607.8L825.3 608.0L826.2 607.7L827.1 607.8L827.9 608.1L828.8 608.2L829.7 608.1L830.6 608.0L831.5 608.3L832.4 608.6L833.3 608.5L834.1 608.5L835.0 608.2L835.9 608.6L836.8 608.5L837.7 608.4L838.6 608.2L839.4 608.4L840.3 609.0L841.2 609.1L842.1 609.2L843.0 609.1L843.9 609.5L844.8 609.7L845.6 609.9L846.5 609.9L847.4 610.0L848.3 610.0L849.2 610.1L850.1 610.2L850.9 610.5L851.8 610.4L852.7 610.8L853.6 610.9L854.5 611.2L855.4 611.1L856.3 611.0L857.1 611.2L858.0 611.4L858.9 611.5L859.8 611.7L860.7 611.5L861.6 611.6L862.4 611.3L863.3 611.5L864.2 611.6L865.1 611.8L866.0 611.8L866.9 612.0L867.8 611.7L868.6 611.6L869.5 611.3L870.4 611.9L871.3 612.2L872.2 612.4L873.1 612.3L874.0 612.0L874.8 612.1L875.7 612.2L876.6 612.4L877.5 612.3L878.4 612.4L879.3 612.1L880.1 612.3L881.0 612.3L881.9 612.5L882.8 612.4L883.7 612.2L884.6 612.0L885.5 612.2L886.3 612.4L887.2 612.3L888.1 612.4L889.0 612.4L889.9 612.6L890.8 612.6L891.6 612.8L892.5 612.8L893.4 612.8L894.3 612.7L895.2 612.9L896.1 612.6L897.0 612.7L897.8 612.4L898.7 612.6L899.6 612.4L900.5 612.2L901.4 612.2L902.3 612.2L903.1 612.5L904.0 612.4L904.9 612.7L905.8 612.7L906.7 612.8L907.6 612.6L908.5 612.5L909.3 612.4L910.2 612.4L911.1 612.5L912.0 612.6L912.9 612.5L913.8 612.5L914.6 612.4L915.5 612.6L916.4 612.9L917.3 613.1L918.2 613.1L919.1 612.6L920.0 612.4L920.8 612.2L921.7 612.5L922.6 612.6L923.5 612.8L924.4 612.7L925.3 612.8L926.1 613.0L927.0 613.0L927.9 612.9L928.8 612.7L929.7 612.9L930.6 612.8L931.5 612.8L932.3 612.5L933.2 612.4L934.1 612.6L935.0 613.2L935.9 613.2L936.8 613.3L937.6 613.0L938.5 613.0L939.4 612.9L940.3 612.8L941.2 612.9L942.1 613.1L943.0 612.9L943.8 613.1L944.7 612.9L945.6 613.1L946.5 613.0L947.4 613.1L948.3 613.2L949.2 613.3L950.0 613.3L950.9 613.0L951.8 613.1L952.7 613.3L953.6 613.7L954.5 613.7L955.3 613.2L956.2 613.1L957.1 612.9L958.0 613.0L958.9 613.1L959.8 613.1L960.7 613.2L961.5 612.8L962.4 612.9L963.3 612.9L964.2 613.1L965.1 613.0L966.0 613.3L966.8 613.2L967.7 613.2L968.6 612.8L969.5 613.2L970.4 613.6L971.3 613.7L972.2 613.5L973.0 613.2L973.9 613.3L974.8 613.2L975.7 613.5L976.6 613.5L977.5 613.7L978.3 613.6L979.2 613.4" fill="none" stroke="#111" stroke-width="2.6" stroke-linejoin="round"/>
<path d="M183.0 603.7L183.9 599.8L184.8 595.3L185.7 591.1L186.5 587.1L187.4 582.9L188.3 578.2L189.2 573.4L190.1 568.4L191.0 563.5L191.8 558.5L192.7 552.8L193.6 548.1L194.5 544.2L195.4 539.2L196.3 534.1L197.2 529.9L198.0 525.8L198.9 522.4L199.8 519.1L200.7 515.6L201.6 513.0L202.5 510.5L203.3 508.4L204.2 506.7L205.1 504.7L206.0 503.3L206.9 503.1L207.8 502.8L208.7 501.7L209.5 501.3L210.4 500.9L211.3 500.9L212.2 501.3L213.1 501.2L214.0 500.4L214.8 500.6L215.7 500.9L216.6 501.6L217.5 502.4L218.4 502.2L219.3 501.9L220.2 502.4L221.0 503.3L221.9 503.0L222.8 503.1L223.7 503.9L224.6 504.4L225.5 504.8L226.4 504.9L227.2 505.1L228.1 505.3L229.0 506.4L229.9 507.2L230.8 507.1L231.7 507.0L232.5 506.9L233.4 507.3L234.3 508.0L235.2 508.4L236.1 508.6L237.0 508.7L237.9 508.9L238.7 509.5L239.6 510.1L240.5 510.8L241.4 510.7L242.3 510.3L243.2 510.6L244.0 510.9L244.9 511.0L245.8 511.4L246.7 511.5L247.6 512.0L248.5 512.4L249.4 512.6L250.2 512.9L251.1 512.9L252.0 513.0L252.9 513.4L253.8 513.8L254.7 514.2L255.5 514.6L256.4 514.6L257.3 514.9L258.2 515.2L259.1 515.3L260.0 515.9L260.9 515.8L261.7 516.2L262.6 517.0L263.5 517.3L264.4 517.4L265.3 517.6L266.2 517.7L267.0 517.9L267.9 518.2L268.8 518.5L269.7 518.5L270.6 518.7L271.5 519.1L272.4 519.2L273.2 519.2L274.1 519.5L275.0 519.3L275.9 519.4L276.8 520.0L277.7 520.1L278.5 520.2L279.4 520.1L280.3 520.0L281.2 520.4L282.1 520.7L283.0 520.7L283.9 520.3L284.7 520.4L285.6 521.2L286.5 521.3L287.4 521.1L288.3 520.5L289.2 520.7L290.0 521.1L290.9 520.2L291.8 520.4L292.7 520.6L293.6 520.2L294.5 520.4L295.4 521.0L296.2 521.1L297.1 520.8L298.0 521.3L298.9 521.6L299.8 521.2L300.7 520.7L301.5 520.4L302.4 520.3L303.3 520.7L304.2 520.9L305.1 520.8L306.0 520.9L306.9 520.7L307.7 520.4L308.6 520.8L309.5 520.9L310.4 521.0L311.3 520.9L312.2 520.6L313.1 520.5L313.9 520.3L314.8 519.8L315.7 520.2L316.6 520.6L317.5 520.5L318.4 520.1L319.2 519.9L320.1 520.2L321.0 520.1L321.9 519.7L322.8 519.8L323.7 520.6L324.6 520.8L325.4 520.4L326.3 520.3L327.2 520.6L328.1 520.0L329.0 519.7L329.9 520.6L330.7 520.8L331.6 521.0L332.5 521.2L333.4 520.8L334.3 520.6L335.2 520.7L336.1 520.5L336.9 520.3L337.8 520.7L338.7 521.2L339.6 520.9L340.5 520.4L341.4 520.5L342.2 520.8L343.1 520.8L344.0 520.8L344.9 520.6L345.8 520.2L346.7 520.4L347.6 520.6L348.4 520.9L349.3 520.3L350.2 519.8L351.1 520.3L352.0 520.4L352.9 519.9L353.7 520.3L354.6 520.8L355.5 520.7L356.4 520.5L357.3 520.6L358.2 520.6L359.1 520.7L359.9 520.5L360.8 520.0L361.7 520.3L362.6 520.4L363.5 520.5L364.4 520.8L365.2 520.4L366.1 520.5L367.0 520.7L367.9 520.9L368.8 520.9L369.7 520.7L370.6 521.2L371.4 522.0L372.3 522.2L373.2 521.8L374.1 521.4L375.0 521.9L375.9 521.9L376.7 521.4L377.6 521.5L378.5 522.0L379.4 521.8L380.3 521.4L381.2 521.3L382.1 522.0L382.9 522.2L383.8 522.1L384.7 522.4L385.6 522.7L386.5 522.7L387.4 522.8L388.3 522.8L389.1 522.7L390.0 522.7L390.9 523.2L391.8 523.6L392.7 523.3L393.6 523.3L394.4 523.5L395.3 523.9L396.2 523.6L397.1 523.3L398.0 523.7L398.9 524.6L399.8 525.0L400.6 524.4L401.5 524.3L402.4 524.9L403.3 524.6L404.2 524.0L405.1 524.3L405.9 524.5L406.8 524.3L407.7 524.0L408.6 524.2L409.5 524.7L410.4 524.2L411.3 523.9L412.1 523.2L413.0 523.0L413.9 523.4L414.8 523.2L415.7 523.3L416.6 523.0L417.4 522.2L418.3 522.2L419.2 522.3L420.1 521.9L421.0 521.7L421.9 521.5L422.8 520.8L423.6 520.9L424.5 521.2L425.4 520.9L426.3 520.8L427.2 519.9L428.1 518.2L428.9 517.2L429.8 516.6L430.7 515.9L431.6 515.6L432.5 514.7L433.4 514.4L434.3 514.2L435.1 513.8L436.0 513.9L436.9 513.5L437.8 513.2L438.7 512.9L439.6 512.5L440.4 512.0L441.3 511.8L442.2 512.3L443.1 512.3L444.0 511.7L444.9 510.8L445.8 509.7L446.6 509.2L447.5 508.7L448.4 507.7L449.3 507.1L450.2 506.5L451.1 506.0L451.9 505.4L452.8 504.7L453.7 504.0L454.6 504.3L455.5 503.9L456.4 502.7L457.3 502.4L458.1 502.1L459.0 501.2L459.9 500.6L460.8 500.6L461.7 500.3L462.6 499.8L463.4 499.7L464.3 499.2L465.2 498.5L466.1 498.2L467.0 498.2L467.9 497.5L468.8 496.6L469.6 496.7L470.5 496.8L471.4 496.8L472.3 496.7L473.2 496.0L474.1 495.7L475.0 495.8L475.8 495.3L476.7 495.4L477.6 495.2L478.5 494.5L479.4 494.5L480.3 494.5L481.1 494.4L482.0 494.8L482.9 494.9L483.8 495.2L484.7 495.0L485.6 494.3L486.5 494.2L487.3 494.4L488.2 494.3L489.1 494.7L490.0 494.9L490.9 494.5L491.8 494.9L492.6 495.5L493.5 495.5L494.4 495.7L495.3 495.9L496.2 496.1L497.1 496.5L498.0 496.9L498.8 497.0L499.7 497.3L500.6 497.3L501.5 497.5L502.4 498.3L503.3 498.8L504.1 499.0L505.0 499.8L505.9 500.6L506.8 500.5L507.7 500.6L508.6 501.5L509.5 502.6L510.3 503.2L511.2 503.9L512.1 504.7L513.0 505.5L513.9 506.2L514.8 506.8L515.6 507.9L516.5 509.3L517.4 509.5L518.3 509.5L519.2 510.3L520.1 511.3L521.0 512.0L521.8 512.4L522.7 513.5L523.6 514.2L524.5 514.7L525.4 515.7L526.3 516.3L527.1 516.9L528.0 518.1L528.9 519.4L529.8 520.4L530.7 520.9L531.6 521.8L532.5 523.5L533.3 524.9L534.2 525.9L535.1 526.9L536.0 528.5L536.9 530.0L537.8 530.9L538.6 532.2L539.5 534.2L540.4 535.7L541.3 536.8L542.2 537.8L543.1 538.9L544.0 540.0L544.8 540.8L545.7 542.7L546.6 544.0L547.5 544.3L548.4 545.1L549.3 546.4L550.2 547.8L551.0 548.6L551.9 548.9L552.8 550.0L553.7 551.5L554.6 552.7L555.5 554.0L556.3 555.0L557.2 555.9L558.1 556.5L559.0 557.4L559.9 559.1L560.8 559.9L561.7 560.3L562.5 561.0L563.4 562.1L564.3 562.7L565.2 562.9L566.1 563.9L567.0 564.7L567.8 565.0L568.7 565.3L569.6 565.9L570.5 566.3L571.4 566.8L572.3 566.8L573.2 567.1L574.0 567.8L574.9 567.7L575.8 567.4L576.7 567.7L577.6 567.4L578.5 567.2L579.3 567.1L580.2 567.2L581.1 567.8L582.0 567.9L582.9 567.1L583.8 566.5L584.7 566.3L585.5 565.8L586.4 565.7L587.3 565.0L588.2 564.4L589.1 564.2L590.0 563.8L590.8 563.3L591.7 562.2L592.6 561.6L593.5 561.2L594.4 560.3L595.3 559.5L596.2 558.5L597.0 557.0L597.9 556.5L598.8 556.3L599.7 555.2L600.6 554.2L601.5 553.5L602.3 552.4L603.2 551.1L604.1 550.2L605.0 549.6L605.9 548.3L606.8 547.3L607.7 546.4L608.5 544.8L609.4 544.2L610.3 543.4L611.2 541.6L612.1 540.4L613.0 539.9L613.8 539.1L614.7 537.6L615.6 536.2L616.5 535.2L617.4 533.7L618.3 532.3L619.2 531.1L620.0 529.5L620.9 527.9L621.8 526.5L622.7 525.1L623.6 523.3L624.5 521.5L625.4 520.2L626.2 518.6L627.1 516.8L628.0 515.2L628.9 513.4L629.8 511.9L630.7 509.8L631.5 507.6L632.4 506.0L633.3 504.6L634.2 503.3L635.1 500.6L636.0 498.1L636.9 496.9L637.7 495.4L638.6 493.4L639.5 491.1L640.4 488.8L641.3 486.6L642.2 483.9L643.0 481.3L643.9 478.0L644.8 475.0L645.7 472.5L646.6 469.7L647.5 467.1L648.4 464.0L649.2 461.6L650.1 459.3L651.0 456.7L651.9 454.5L652.8 452.7L653.7 451.3L654.5 449.6L655.4 447.6L656.3 445.7L657.2 443.9L658.1 441.6L659.0 439.8L659.9 438.0L660.7 435.5L661.6 432.9L662.5 430.6L663.4 428.2L664.3 425.6L665.2 423.4L666.0 421.1L666.9 418.7L667.8 416.3L668.7 414.0L669.6 411.9L670.5 409.3L671.4 407.3L672.2 405.3L673.1 403.3L674.0 401.8L674.9 399.9L675.8 398.6L676.7 398.0L677.5 397.3L678.4 396.6L679.3 396.0L680.2 395.1L681.1 394.7L682.0 394.2L682.9 394.0L683.7 394.1L684.6 393.5L685.5 393.4L686.4 393.5L687.3 393.2L688.2 392.7L689.0 393.1L689.9 393.5L690.8 394.2L691.7 395.8L692.6 396.5L693.5 397.1L694.4 397.8L695.2 398.4L696.1 399.3L697.0 400.0L697.9 401.0L698.8 402.3L699.7 403.0L700.5 403.4L701.4 403.8L702.3 404.5L703.2 405.2L704.1 405.9L705.0 406.5L705.9 407.2L706.7 407.2L707.6 407.0L708.5 407.8L709.4 407.8L710.3 407.4L711.2 407.3L712.1 407.1L712.9 407.1L713.8 407.9L714.7 407.9L715.6 406.9L716.5 406.1L717.4 405.8L718.2 405.6L719.1 404.5L720.0 402.9L720.9 402.1L721.8 401.2L722.7 399.6L723.6 397.7L724.4 395.8L725.3 394.1L726.2 392.1L727.1 390.6L728.0 389.0L728.9 387.0L729.7 385.8L730.6 384.2L731.5 381.6L732.4 379.7L733.3 378.5L734.2 376.3L735.1 374.0L735.9 372.4L736.8 370.5L737.7 369.3L738.6 367.5L739.5 365.2L740.4 364.1L741.2 362.8L742.1 361.4L743.0 360.1L743.9 358.7L744.8 357.7L745.7 356.1L746.6 354.6L747.4 353.8L748.3 352.7L749.2 351.8L750.1 350.7L751.0 349.8L751.9 349.8L752.7 350.0L753.6 349.6L754.5 350.0L755.4 350.8L756.3 349.9L757.2 349.4L758.1 350.4L758.9 350.5L759.8 349.9L760.7 349.8L761.6 349.8L762.5 350.1L763.4 350.5L764.2 351.3L765.1 351.9L766.0 352.2L766.9 352.6L767.8 353.4L768.7 354.2L769.6 355.0L770.4 356.5L771.3 357.8L772.2 358.8L773.1 359.9L774.0 361.0L774.9 362.0L775.7 363.0L776.6 364.3L777.5 365.2L778.4 366.5L779.3 367.9L780.2 368.6L781.1 369.7L781.9 371.0L782.8 372.6L783.7 374.1L784.6 375.9L785.5 377.5L786.4 378.3L787.3 380.1L788.1 382.1L789.0 384.3L789.9 387.2L790.8 389.7L791.7 391.6L792.6 393.9L793.4 397.5L794.3 400.8L795.2 403.5L796.1 407.0L797.0 411.0L797.9 414.7L798.8 418.1L799.6 422.3L800.5 427.0L801.4 431.3L802.3 435.3L803.2 439.5L804.1 443.2L804.9 446.8L805.8 450.9L806.7 455.8L807.6 460.7L808.5 466.4L809.4 473.0L810.3 478.8L811.1 484.0L812.0 488.4L812.9 492.5L813.8 496.8L814.7 501.6L815.6 506.9L816.4 511.9L817.3 516.1L818.2 520.4L819.1 524.9L820.0 529.2L820.9 533.0L821.8 536.7L822.6 540.1L823.5 543.5L824.4 547.7L825.3 550.6L826.2 553.0L827.1 556.3L827.9 558.9L828.8 561.2L829.7 563.7L830.6 566.3L831.5 568.6L832.4 570.5L833.3 572.6L834.1 575.0L835.0 576.9L835.9 579.1L836.8 581.3L837.7 583.3L838.6 584.8L839.4 586.4L840.3 588.2L841.2 589.6L842.1 590.9L843.0 591.7L843.9 592.4L844.8 593.7L845.6 594.4L846.5 595.2L847.4 596.4L848.3 597.2L849.2 597.8L850.1 598.5L850.9 599.7L851.8 600.8L852.7 601.7L853.6 602.0L854.5 602.3L855.4 602.6L856.3 603.2L857.1 603.8L858.0 604.3L858.9 605.1L859.8 605.3L860.7 604.9L861.6 605.0L862.4 605.3L863.3 605.6L864.2 606.6L865.1 607.2L866.0 606.8L866.9 607.1L867.8 608.1L868.6 608.0L869.5 607.7L870.4 607.9L871.3 608.3L872.2 608.8L873.1 609.1L874.0 609.4L874.8 609.6L875.7 609.8L876.6 609.8L877.5 609.2L878.4 609.1L879.3 609.7L880.1 609.7L881.0 610.0L881.9 610.1L882.8 609.8L883.7 610.3L884.6 610.8L885.5 610.6L886.3 610.7L887.2 611.0L888.1 610.9L889.0 610.2L889.9 610.0L890.8 610.6L891.6 610.5L892.5 610.8L893.4 611.4L894.3 611.3L895.2 610.8L896.1 611.5L897.0 611.7L897.8 610.9L898.7 611.2L899.6 611.6L900.5 611.4L901.4 611.6L902.3 611.7L903.1 611.3L904.0 611.5L904.9 611.9L905.8 611.8L906.7 611.7L907.6 611.9L908.5 612.5L909.3 612.4L910.2 612.1L911.1 612.3L912.0 611.9L912.9 612.2L913.8 612.4L914.6 612.6L915.5 612.5L916.4 612.1L917.3 611.9L918.2 612.2L919.1 612.5L920.0 612.7L920.8 612.7L921.7 612.7L922.6 612.9L923.5 612.8L924.4 612.0L925.3 611.7L926.1 611.8L927.0 612.5L927.9 612.6L928.8 612.6L929.7 612.9L930.6 613.1L931.5 613.2L932.3 612.8L933.2 612.5L934.1 612.6L935.0 612.7L935.9 612.5L936.8 612.5L937.6 613.0L938.5 612.7L939.4 612.3L940.3 612.5L941.2 612.5L942.1 613.0L943.0 612.9L943.8 612.9L944.7 612.6L945.6 612.7L946.5 612.9L947.4 612.8L948.3 613.0L949.2 612.3L950.0 612.0L950.9 612.8L951.8 613.3L952.7 613.4L953.6 613.1L954.5 612.7L955.3 613.0L956.2 613.8L957.1 613.4L958.0 612.9L958.9 612.6L959.8 612.8L960.7 613.9L961.5 613.9L962.4 613.5L963.3 613.5L964.2 613.0L965.1 613.2L966.0 613.1L966.8 612.7L967.7 613.1L968.6 613.4L969.5 613.5L970.4 613.3L971.3 613.1L972.2 612.6L973.0 612.9L973.9 613.0L974.8 612.7L975.7 612.5L976.6 612.8L977.5 612.6L978.3 612.4L979.2 612.5" fill="none" stroke="#0a0ac8" stroke-width="4.6" stroke-linejoin="round" stroke-linecap="round"/>
</g>
<path d="M220.5 37.5H310.5" stroke="#111" stroke-width="2.5" fill="none"/>
<path d="M222 98.8H309.5" stroke="#0a0ac8" stroke-width="4.6" stroke-linecap="round" fill="none"/>
<path d="M220.5 147.5H310.5" stroke="#bf4f4c" stroke-width="2.3" fill="none"/>
<circle cx="265.5" cy="147.5" r="3.3" fill="#fdeceb" stroke="#c6766f" stroke-width="1.1"/>
<g stroke="#111" fill="none" stroke-width="2.6">
<path d="M183.2 27.6V627"/>
<path d="M170 614.7H980.3"/>
</g>
<g stroke="#111" fill="none" stroke-width="2.4">
<path d="M175.5 595.2H183.2"/>
<path d="M175.5 575.6H183.2"/>
<path d="M175.5 556.1H183.2"/>
<path d="M175.5 536.5H183.2"/>
<path d="M170 517.0H195.5"/>
<path d="M175.5 497.5H183.2"/>
<path d="M175.5 477.9H183.2"/>
<path d="M175.5 458.4H183.2"/>
<path d="M175.5 438.8H183.2"/>
<path d="M170 419.3H195.5"/>
<path d="M175.5 399.8H183.2"/>
<path d="M175.5 380.2H183.2"/>
<path d="M175.5 360.7H183.2"/>
<path d="M175.5 341.1H183.2"/>
<path d="M170 321.6H195.5"/>
<path d="M175.5 302.1H183.2"/>
<path d="M175.5 282.5H183.2"/>
<path d="M175.5 263.0H183.2"/>
<path d="M175.5 243.4H183.2"/>
<path d="M170 223.9H195.5"/>
<path d="M175.5 204.4H183.2"/>
<path d="M175.5 184.8H183.2"/>
<path d="M175.5 165.3H183.2"/>
<path d="M175.5 145.7H183.2"/>
<path d="M170 126.2H195.5"/>
<path d="M175.5 106.7H183.2"/>
<path d="M175.5 87.1H183.2"/>
<path d="M175.5 67.6H183.2"/>
<path d="M175.5 48.0H183.2"/>
<path d="M170 28.5H195.5"/>
<path d="M227.7 614.7V621"/>
<path d="M272.0 602.5V627"/>
<path d="M316.2 614.7V621"/>
<path d="M360.4 602.5V627"/>
<path d="M404.7 614.7V621"/>
<path d="M448.9 602.5V627"/>
<path d="M493.1 614.7V621"/>
<path d="M537.4 602.5V627"/>
<path d="M581.6 614.7V621"/>
<path d="M625.9 602.5V627"/>
<path d="M670.1 614.7V621"/>
<path d="M714.3 602.5V627"/>
<path d="M758.6 614.7V621"/>
<path d="M802.8 602.5V627"/>
<path d="M847.0 614.7V621"/>
<path d="M891.3 602.5V627"/>
<path d="M935.5 614.7V621"/>
<path d="M979.7 602.5V627"/>
</g>
<g class="tk" text-anchor="middle">
<text transform="translate(183.4 661.8) scale(1 1.09)">100</text>
<text transform="translate(271.9 661.8) scale(1 1.09)">200</text>
<text transform="translate(360.3 661.8) scale(1 1.09)">300</text>
<text transform="translate(448.8 661.8) scale(1 1.09)">400</text>
<text transform="translate(537.3 661.8) scale(1 1.09)">500</text>
<text transform="translate(625.8 661.8) scale(1 1.09)">600</text>
<text transform="translate(714.2 661.8) scale(1 1.09)">700</text>
<text transform="translate(802.7 661.8) scale(1 1.09)">800</text>
<text transform="translate(891.2 661.8) scale(1 1.09)">900</text>
<text transform="translate(979.6 661.8) scale(1 1.09)">1000</text>
</g>
<g class="tk" text-anchor="end">
<text transform="translate(162.4 625.1) scale(1 1.09)">0</text>
<text transform="translate(162.4 527.4) scale(1 1.09)">5</text>
<text transform="translate(162.4 429.7) scale(1 1.09)">10</text>
<text transform="translate(162.4 332.0) scale(1 1.09)">15</text>
<text transform="translate(162.4 234.3) scale(1 1.09)">20</text>
<text transform="translate(162.4 136.6) scale(1 1.09)">25</text>
<text transform="translate(162.4 38.9) scale(1 1.09)">30</text>
</g>
<g class="ti">
<text x="400.9" y="728.6" letter-spacing="0.14">Wave number (cm<tspan font-size="24px" dy="-18.6">-1</tspan><tspan dy="18.6">)</tspan></text>
<text transform="translate(40.9 612.6) rotate(-90)" x="0" y="0">Relative reduced Raman intensity</text>
<text transform="translate(92.3 360.2) rotate(-90)" x="0" y="0" letter-spacing="0.4">(a.u.)</text>
</g>
</svg></body></html>
